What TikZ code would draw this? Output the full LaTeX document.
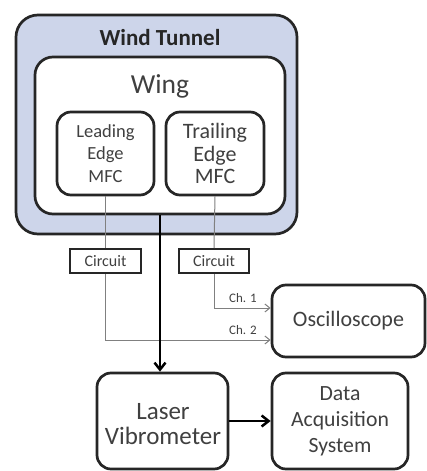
\documentclass[tikz,border=0pt]{standalone}
\usepackage{fontspec}
\setmainfont{Carlito}
\usetikzlibrary{arrows.meta,calc}
\definecolor{tunnel}{RGB}{205,213,234}
\definecolor{txt}{RGB}{64,64,64}
\definecolor{edge}{RGB}{38,38,38}
\definecolor{wire}{RGB}{128,128,128}
\tikzset{
  rbox/.style={draw=edge, line width=2.7pt, rounded corners=14pt, fill=white, inner sep=0pt, align=center, text=txt},
  cbox/.style={draw=edge, line width=2pt, fill=white, inner sep=0pt, align=center, text=txt},
  thinwire/.style={draw=wire, line width=1pt},
  thickwire/.style={draw=black, line width=2.5pt},
  lbl/.style={inner sep=0pt, text=txt}
}
\begin{document}
\begin{tikzpicture}[x=1pt,y=-1pt]
\useasboundingbox (0,0) rectangle (427,471);
% Wind tunnel
\node[rbox, fill=tunnel, rounded corners=22pt, minimum width=281pt, minimum height=219pt] (WT) at (156.5,124.5) {};
\node[lbl, text=edge, font=\fontsize{23}{26}\selectfont\bfseries] (WTl) at (160,38) {Wind Tunnel};
% Wing
\node[rbox, rounded corners=18pt, minimum width=250pt, minimum height=157pt] (Wing) at (160,135.5) {};
\node[lbl, font=\fontsize{27.5}{30}\selectfont] (Wingl) at (160,86) {Wing};
% MFCs
\node[rbox, minimum width=97pt, minimum height=83pt, font=\fontsize{18.5}{22.5}\selectfont] (LE) at (105.5,153.5) {Leading\\Edge\\MFC};
\node[rbox, minimum width=98pt, minimum height=83pt, font=\fontsize{22}{22.5}\selectfont] (TE) at (215,153.5) {Trailing\\Edge\\MFC};
% Circuits
\node[cbox, minimum width=71pt, minimum height=24pt, font=\fontsize{16}{18}\selectfont] (CL) at (105.5,261) {Circuit};
\node[cbox, minimum width=70pt, minimum height=24pt, font=\fontsize{16}{18}\selectfont] (CR) at (214,261) {Circuit};
% Oscilloscope
\node[rbox, minimum width=153pt, minimum height=72pt, font=\fontsize{22}{26}\selectfont] (Osc) at (348.5,321) {Oscilloscope};
% Laser vibrometer
\node[rbox, minimum width=131pt, minimum height=96pt] (LV) at (162.5,421) {};
\node[lbl, align=center, font=\fontsize{25}{25}\selectfont] (LVl) at (163,424) {Laser\\Vibrometer};
% DAS
\node[rbox, minimum width=136pt, minimum height=96pt, font=\fontsize{21.7}{26}\selectfont] (DAS) at (340,421) {Data\\Acquisition\\System};
% coordinates
\coordinate (c1) at (Osc.west |- 0,308);
\coordinate (c2) at (Osc.west |- 0,340);
% thin wires
\draw[thinwire] (LE.south) -- (CL.north);
\draw[thinwire] (TE.south) -- (CR.north);
\draw[thinwire, -{Straight Barb[length=5pt,width=8pt]}] (CR.south) |- (c1);
\draw[thinwire, -{Straight Barb[length=5pt,width=8pt]}] (CL.south) |- (c2);
\node[lbl, font=\fontsize{13}{15}\selectfont] (ch1) at (243,298) {Ch. 1};
\node[lbl, font=\fontsize{13}{15}\selectfont] (ch2) at (243,330) {Ch. 2};
% thick arrows
\draw[thickwire, -{Straight Barb[length=7pt,width=11pt]}] (Wing.south) -- (Wing.south |- LV.north);
\draw[thickwire, -{Straight Barb[length=7pt,width=11pt]}] (LV.east) -- (DAS.west);
\end{tikzpicture}
\end{document}
